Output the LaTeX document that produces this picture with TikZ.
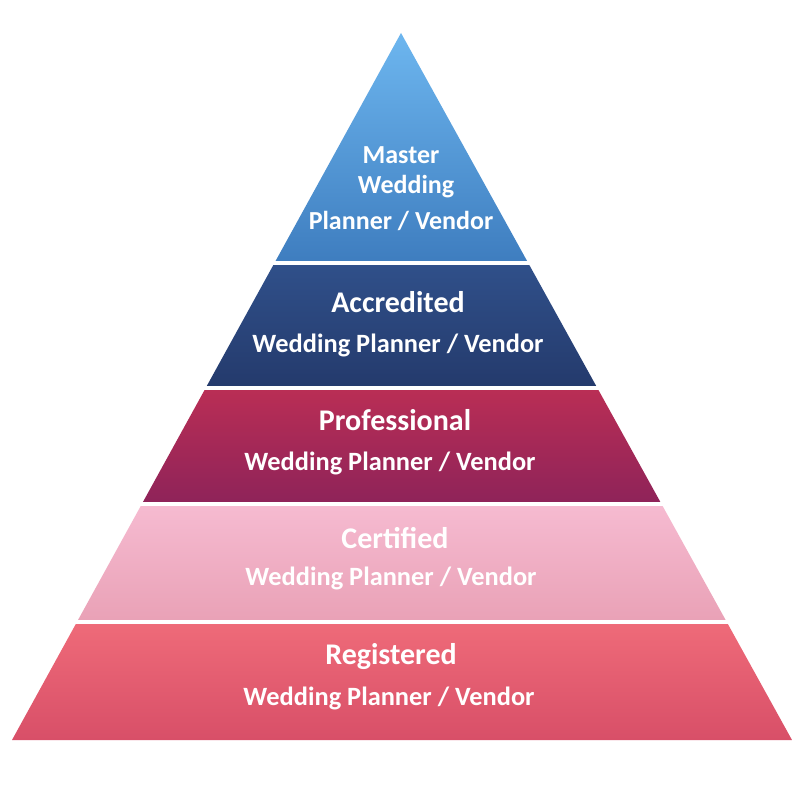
\documentclass[tikz,border=0pt]{standalone}
\usepackage{fontspec}
\setmainfont{Carlito}

% tier colours
\definecolor{masterTop}{HTML}{6DB6EF}
\definecolor{masterBot}{HTML}{3E7DBF}
\definecolor{accrTop}{HTML}{30508A}
\definecolor{accrBot}{HTML}{243A6C}
\definecolor{profTop}{HTML}{BA2E55}
\definecolor{profBot}{HTML}{8E2359}
\definecolor{certTop}{HTML}{F6BBD1}
\definecolor{certBot}{HTML}{E9A1B6}
\definecolor{regTop}{HTML}{EF6B79}
\definecolor{regBot}{HTML}{D84F68}

\tikzset{
  tiertitle/.style={text=white, font=\bfseries\fontsize{15}{18}\selectfont},
  tiersub/.style={text=white, font=\bfseries\fontsize{13.2}{16}\selectfont},
  toptext/.style={text=white, font=\bfseries\fontsize{13}{16}\selectfont},
}

\begin{document}
\begin{tikzpicture}[x=0.5pt,y=-0.5pt]
	\useasboundingbox (0,0) rectangle (808,808);
	\fill[white] (0,0) rectangle (808,808);
	
	% corners of the pyramid
	\coordinate (apex) at (401,33);
	\coordinate (baseL) at (12,740);
	\coordinate (baseR) at (792,740);
	
	% tiers
	\begin{scope}
		\clip (apex) -- (baseR) -- (baseL) -- cycle;
		\shade[top color=masterTop, bottom color=masterBot] (0,33) rectangle (808,263);
		\shade[top color=accrTop, bottom color=accrBot] (0,263) rectangle (808,388);
		\shade[top color=profTop, bottom color=profBot] (0,388) rectangle (808,504);
		\shade[top color=certTop, bottom color=certBot] (0,504) rectangle (808,622);
		\shade[top color=regTop, bottom color=regBot] (0,622) rectangle (808,740);
	\end{scope}
	
	% white gaps
	\foreach \y in {263,388,504,622}
		\draw[white, line width=2pt] (0,\y) -- (808,\y);
	
	% labels
	\node[toptext] (master) at (401,155) {Master};
	\node[toptext] (masterW) at (406,187) {Wedding};
	\node[toptext] (masterPV) at (401,221) {Planner / Vendor};
	
	\node[tiertitle] (accr) at (398,302) {Accredited};
	\node[tiersub] (accrSub) at (398,345) {Wedding Planner / Vendor};
	
	\node[tiertitle] (prof) at (395,420) {Professional};
	\node[tiersub] (profSub) at (390,463) {Wedding Planner / Vendor};
	
	\node[tiertitle] (cert) at (395,538) {Certified};
	\node[tiersub] (certSub) at (391,578) {Wedding Planner / Vendor};
	
	\node[tiertitle] (reg) at (391,657) {Registered};
	\node[tiersub] (regSub) at (389,698) {Wedding Planner / Vendor};
\end{tikzpicture}
\end{document}
